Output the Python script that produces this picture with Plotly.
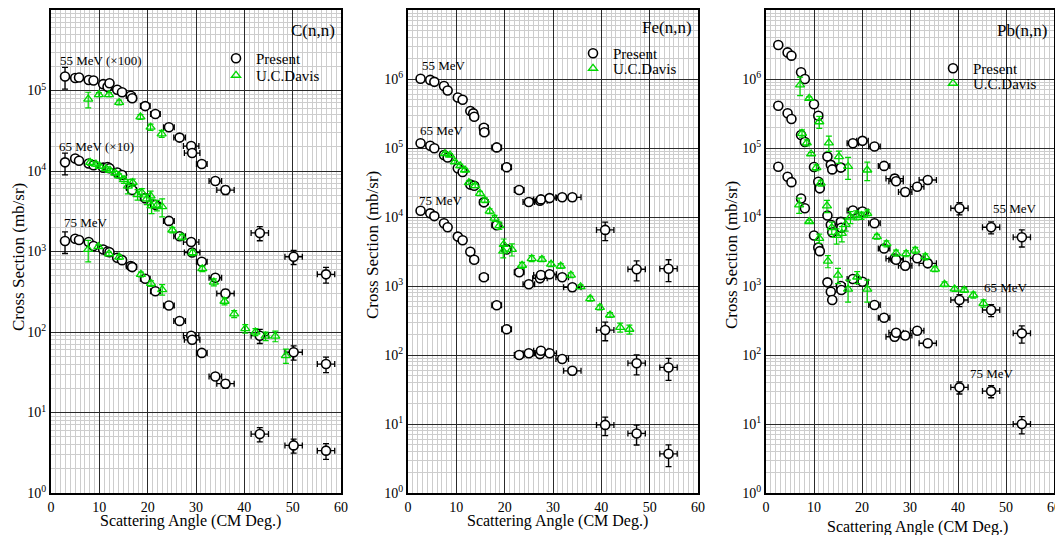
import plotly.graph_objects as go

FONT = "Liberation Serif"
BLACK = "#000000"
GREEN = "#00d800"

# ---------------- C(n,n) : Present ----------------
C_ang = [2.9, 5.0, 5.8, 7.8, 8.8, 10.8, 11.7, 12.1, 13.7, 14.7, 16.5, 16.8, 19.5, 21.6,
         24.4, 26.6, 29.0, 29.2, 31.2, 34.0, 36.1, 43.2, 50.2, 56.9]
C_xerr = [0, 0, 0, 0, 0, 0.5, 0.6, 0.6, 0.7, 0.8, 0.9, 0.9, 1.0, 1.0,
          1.1, 1.2, 1.6, 1.6, 1.1, 1.3, 1.8, 1.8, 1.8, 1.8]
C_yerr = [0.3, 0.03, 0.03, 0.03, 0.03, 0.04, 0.04, 0.04, 0.04, 0.05, 0.05, 0.05, 0.05, 0.05,
          0.05, 0.05, 0.06, 0.06, 0.06, 0.07, 0.12, 0.2, 0.2, 0.22]
C_p55 = [1.49e5, 1.43e5, 1.45e5, 1.35e5, 1.33e5, 1.2e5, 1.11e5, 1.23e5, 1.02e5, 9.5e4, 8.6e4, 8.0e4,
         6.4e4, 5.1e4, 3.5e4, 2.6e4, 2.04e4, 1.67e4, 1.22e4, 7.5e3, 5.8e3, 1.7e3, 860, 520]
C_p65 = [1.28e4, 1.43e4, 1.34e4, 1.24e4, 1.18e4, 1.1e4, 1.12e4, 1.08e4, 9.6e3, 8.9e3, 6.2e3, 5.8e3,
         4.6e3, 3.8e3, 2.4e3, 1.55e3, 1.31e3, 970, 746, 472, 301, 90, 56, 40]
C_p75 = [1.35e3, 1.44e3, 1.39e3, 1.31e3, 1.17e3, 1.06e3, 1.0e3, 980, 837, 781, 660, 640,
         458, 321, 213, 137, 90, 80, 55, 28, 22.8, 5.4, 3.9, 3.36]

# ---------------- C(n,n) : U.C.Davis ----------------
C_u55_ang = [7.7, 9.9, 12.0, 14.1, 18.5, 20.6, 22.9]
C_u55 = [7.8e4, 8.9e4, 8.9e4, 7.1e4, 4.7e4, 3.5e4, 2.9e4]
C_u55_err = [0.22, 0.06, 0.06, 0.07, 0.07, 0.09, 0.1]
C_u65_ang = [8.1, 9.3, 10.1, 11.4, 12.2, 13.3, 14.1, 15.1, 15.9, 16.9, 17.9, 18.8, 19.8, 20.6, 20.8,
             21.9, 23.0, 25.1, 27.1, 29.3, 31.3, 33.7, 35.9, 37.9, 40.2, 42.3, 44.4, 46.4, 48.6]
C_u65 = [1.28e4, 1.22e4, 1.14e4, 1.07e4, 1.02e4, 9.4e3, 8.7e3, 7.8e3, 6.5e3, 7.2e3, 5.1e3, 5.4e3, 4.5e3,
         4.9e3, 3.7e3, 3.75e3, 3.6e3, 1.85e3, 1.51e3, 966, 611, 416, 241, 168, 110, 100, 89, 89, 51]
C_u65_err = [0.08, 0.06, 0.05, 0.05, 0.05, 0.05, 0.06, 0.1, 0.2, 0.1, 0.15, 0.12, 0.15,
             0.15, 0.2, 0.15, 0.25, 0.08, 0.08, 0.08, 0.08, 0.1, 0.1, 0.1, 0.12, 0.1, 0.12, 0.15, 0.2]
C_u75_ang = [7.7, 9.8, 12.0, 14.1, 18.6, 20.7, 23.0]
C_u75 = [1.06e3, 1.15e3, 938, 851, 519, 401, 337]
C_u75_err = [0.3, 0.05, 0.05, 0.06, 0.07, 0.08, 0.15]

# ---------------- Fe(n,n) : Present ----------------
Fe_ang = [2.6, 4.6, 5.45, 7.45, 8.2, 10.3, 11.3, 12.9, 13.5, 13.7, 15.7, 15.8, 18.35, 20.4,
          23.0, 25.0, 27.3, 27.5, 29.3, 31.9, 34.0, 40.8, 47.3, 53.9]
Fe_xerr = [0, 0, 0, 0, 0, 0.4, 0.7, 0.4, 0.5, 0.8, 0.9, 0.9, 1.0, 1.0,
           1.0, 1.2, 1.5, 1.5, 1.4, 1.3, 1.8, 1.8, 1.8, 1.8]
Fe_yerr = [0.03, 0.03, 0.03, 0.03, 0.03, 0.03, 0.03, 0.04, 0.04, 0.04, 0.04, 0.04, 0.05, 0.05,
           0.08, 0.08, 0.1, 0.1, 0.08, 0.08, 0.12, 0.3, 0.32, 0.35]
Fe_p55 = [1.01e6, 9.7e5, 9.1e5, 7.9e5, 6.8e5, 5.4e5, 5.0e5, 3.44e5, 3.18e5, 2.84e5, 1.97e5, 1.69e5,
          1.02e5, 5.25e4, 2.46e4, 1.65e4, 1.72e4, 1.80e4, 1.88e4, 1.93e4, 1.93e4, 6.5e3, 1.75e3, 1.78e3]
Fe_p65 = [1.17e5, 1.08e5, 9.9e4, 7.9e4, 7.3e4, 5.1e4, 4.5e4, 2.95e4, None, 2.84e4, 1.63e4, None,
          7.6e3, 3.4e3, 1.58e3, 1.06e3, 1.29e3, 1.44e3, 1.48e3, 1.34e3, 957, 230, 76, 66]
Fe_p75 = [1.23e4, 1.13e4, 1.03e4, 8.1e3, 7.1e3, 5.2e3, 4.6e3, 3.14e3, None, 2.4e3, 1.34e3, None,
          525, 236, 100, 106, 103, 115, 106, 87.5, 59, 9.7, 7.3, 3.7]

# ---------------- Fe(n,n) : U.C.Davis ----------------
Fe_u_ang = [7.65, 8.7, 9.7, 10.8, 11.8, 12.6, 13.9, 14.9, 15.9, 16.9, 17.9, 18.9, 19.7, 19.8, 21.5,
            23.6, 25.6, 27.7, 29.6, 31.6, 33.7, 35.7, 37.7, 39.7, 41.8, 43.9, 45.8]
Fe_u = [8.3e4, 7.9e4, 6.3e4, 5.5e4, 4.8e4, 3.15e4, 2.84e4, 2.2e4, 1.76e4, 1.22e4, 9.6e3, 7.5e3, 3.2e3,
        4.0e3, 3.4e3, 2.0e3, 2.5e3, 2.44e3, 2.08e3, 1.95e3, 1.44e3, 977, 655, 491, 380, 252, 236]
Fe_u_err = [0.05, 0.05, 0.05, 0.05, 0.06, 0.06, 0.06, 0.07, 0.08, 0.08, 0.1, 0.12, 0.2,
            0.2, 0.2, 0.1, 0.1, 0.08, 0.08, 0.08, 0.08, 0.06, 0.08, 0.08, 0.08, 0.15, 0.15]

# ---------------- Pb(n,n) : Present ----------------
Pb_ang = [2.56, 4.5, 5.3, 7.3, 8.1, 10.0, 10.9, 11.2, 12.8, 13.5, 13.8, 15.6, 15.7, 18.1, 20.1,
          22.6, 24.6, 26.8, 27.1, 29.0, 31.5, 33.7, 40.3, 46.9, 53.3]
Pb_xerr = [0, 0, 0, 0, 0, 0.3, 0.8, 0.8, 0.5, 0.6, 0.6, 0.9, 0.9, 1.2, 1.2,
           1.2, 1.2, 1.8, 1.5, 1.4, 1.4, 1.8, 1.8, 1.8, 1.8]
Pb_yerr = [0.04, 0.04, 0.04, 0.04, 0.04, 0.05, 0.05, 0.05, 0.06, 0.08, 0.1, 0.12, 0.1, 0.06, 0.06,
           0.06, 0.08, 0.12, 0.1, 0.12, 0.1, 0.1, 0.2, 0.2, 0.28]
Pb_p55 = [3.11e6, 2.43e6, 2.18e6, 1.25e6, 1.0e6, 4.3e5, 2.94e5, None, 7.5e4, 5.7e4, 4.9e4, 5.2e4, None,
          1.17e5, 1.27e5, 1.05e5, 5.5e4, 3.6e4, 3.3e4, 2.3e4, 2.75e4, 3.44e4, 1.34e4, 7.1e3, 5.1e3]
Pb_p65 = [4.1e5, 3.19e5, 2.63e5, 1.54e5, 1.22e5, 5.3e4, 3.25e4, 2.6e4, 1.05e4, 7.7e3, 6.0e3, 8.5e3, 7.0e3,
          1.24e4, 1.2e4, 8.1e3, 3.5e3, 2.5e3, 2.4e3, 1.97e3, 2.52e3, 2.13e3, 627, 449, 206]
Pb_p75 = [5.36e4, 3.84e4, 3.2e4, 1.85e4, 1.34e4, 5.4e3, 3.6e3, 3.2e3, 1.13e3, 826, 627, 1.0e3, 875,
          1.26e3, 1.15e3, 531, 347, 184, 210, 192, 225, 148, 34, 30, 10]

# ---------------- Pb(n,n) : U.C.Davis ----------------
Pb_u55_ang = [7.1, 9.0, 11.1, 13.1, 15.2, 17.1, 21.1]
Pb_u55 = [8.2e5, 5.25e5, 2.4e5, 1.19e5, 7.5e4, 5.4e4, 4.8e4]
Pb_u55_err = [0.3, 0.05, 0.2, 0.25, 0.2, 0.35, 0.3]
Pb_u65_ang = [7.5, 8.5, 9.4, 10.5, 11.4, 12.7, 13.7, 14.7, 15.8, 16.6, 17.6, 18.8, 19.9, 21.1,
              23.1, 25.1, 27.1, 29.2, 31.1, 33.2, 35.2, 37.2, 39.3, 41.3, 43.2, 45.3]
Pb_u65 = [1.63e5, 1.19e5, 8.2e4, 5.2e4, 3.1e4, 1.45e4, 7.0e3, 5.4e3, 5.8e3, 7.8e3, 1.0e4, 1.07e4, 1.05e4,
          1.13e4, 5.2e3, 4.1e3, 3.0e3, 2.95e3, 3.3e3, 2.66e3, 1.76e3, 1.06e3, 906, 875, 741, 561]
Pb_u65_err = [0.12, 0.1, 0.05, 0.1, 0.1, 0.2, 0.2, 0.25, 0.25, 0.2, 0.2, 0.15, 0.12,
              0.12, 0.08, 0.1, 0.1, 0.1, 0.1, 0.1, 0.08, 0.08, 0.08, 0.08, 0.1, 0.12]
Pb_u75_ang = [6.9, 9.0, 11.1, 12.9, 15.0, 17.1, 19.0, 21.1]
Pb_u75 = [1.5e4, 8.6e3, 4.9e3, 2.3e3, 1.44e3, 900, 1.35e3, 900]
Pb_u75_err = [0.25, 0.05, 0.15, 0.2, 0.25, 0.35, 0.2, 0.35]

Y_TICKVALS = [1, 10, 100, 1e3, 1e4, 1e5, 1e6, 1e7]
Y_TICKTEXT = ["10<sup>0</sup>", "10<sup>1</sup>", "10<sup>2</sup>", "10<sup>3</sup>",
              "10<sup>4</sup>", "10<sup>5</sup>", "10<sup>6</sup>", "10<sup>7</sup>"]
X_TICKVALS = [0, 10, 20, 30, 40, 50, 60]

# the page body has an 8px margin, so the figure is offset by 8px inside the window
OFF = 8
W, H = 1063 - OFF, 535 - OFF
PLOT_TOP, PLOT_BOT = 10 - OFF, 493 - OFF
MT, MB = PLOT_TOP, H - PLOT_BOT
plot_h = PLOT_BOT - PLOT_TOP


def px(x):
    return (x - OFF) / W


def py(y):
    return (PLOT_BOT - (y - OFF)) / plot_h


panels = [
    dict(name="C(n,n)", dom=(51, 341), ymax=6, xa="x", ya="y",
         present=[(C_p55, C_ang, C_xerr, C_yerr), (C_p65, C_ang, C_xerr, C_yerr),
                  (C_p75, C_ang, C_xerr, C_yerr)],
         ucd=[(C_u55, C_u55_ang, C_u55_err), (C_u65, C_u65_ang, C_u65_err), (C_u75, C_u75_ang, C_u75_err)],
         labels=[("55 MeV (×100)", 1.5, 60), ("65 MeV (×10)", 1.2, 146), ("75 MeV", 2.2, 222)],
         ytitle=(18, 257), xtitle=(190, 521), leg=(234, 58, 75), title_y=30),
    dict(name="Fe(n,n)", dom=(408, 698), ymax=7, xa="x2", ya="y2",
         present=[(Fe_p55, Fe_ang, Fe_xerr, Fe_yerr), (Fe_p65, Fe_ang, Fe_xerr, Fe_yerr),
                  (Fe_p75, Fe_ang, Fe_xerr, Fe_yerr)],
         ucd=[(Fe_u, Fe_u_ang, Fe_u_err)],
         labels=[("55 MeV", 2.4, 65), ("65 MeV", 2.1, 130), ("75 MeV", 1.9, 200)],
         ytitle=(373, 245), xtitle=(557, 521), leg=(591, 53, 68), title_y=27),
    dict(name="Pb(n,n)", dom=(766, 1054), ymax=7, xa="x3", ya="y3",
         present=[(Pb_p55, Pb_ang, Pb_xerr, Pb_yerr), (Pb_p65, Pb_ang, Pb_xerr, Pb_yerr),
                  (Pb_p75, Pb_ang, Pb_xerr, Pb_yerr)],
         ucd=[(Pb_u55, Pb_u55_ang, Pb_u55_err), (Pb_u65, Pb_u65_ang, Pb_u65_err),
              (Pb_u75, Pb_u75_ang, Pb_u75_err)],
         labels=[("55 MeV", 46.9, 208), ("65 MeV", 45.0, 287), ("75 MeV", 42.1, 373)],
         ytitle=(731, 255), xtitle=(917, 527), leg=(951, 68, 83), title_y=30),
]


def yerr_abs(vals, frac):
    return [None if v is None else v * f for v, f in zip(vals, frac)]


fig = go.Figure()
layout = dict(width=W, height=H, margin=dict(l=0, r=0, t=MT, b=MB),
              paper_bgcolor="white", plot_bgcolor="white",
              font=dict(family=FONT, size=14, color="black"), annotations=[])

for i, p in enumerate(panels):
    leg_a = "legend" if i == 0 else "legend%d" % (2 * i + 1)
    leg_b = "legend%d" % (2 * i + 2)
    for k, (vals, ang, xerr, yf) in enumerate(p["present"]):
        fig.add_trace(go.Scatter(
            x=ang, y=vals, mode="markers", xaxis=p["xa"], yaxis=p["ya"],
            name="Present", legend=leg_a, showlegend=(k == 0),
            marker=dict(symbol="circle", size=9, color="white", line=dict(color=BLACK, width=1.6)),
            error_x=dict(type="data", array=xerr, color=BLACK, thickness=1.3, width=3),
            error_y=dict(type="data", array=yerr_abs(vals, yf), color=BLACK, thickness=1.3, width=3),
        ))
    for k, (vals, ang, yf) in enumerate(p["ucd"]):
        fig.add_trace(go.Scatter(
            x=ang, y=vals, mode="markers", xaxis=p["xa"], yaxis=p["ya"],
            name="U.C.Davis", legend=leg_b, showlegend=(k == 0),
            marker=dict(symbol="triangle-up-open", size=8, color=GREEN, line=dict(color=GREEN, width=1.3)),
            error_y=dict(type="data", array=yerr_abs(vals, yf), color=GREEN, thickness=1.2, width=3),
        ))

    x0, x1 = p["dom"]
    sfx = "" if i == 0 else str(i + 1)
    layout["xaxis" + sfx] = dict(
        domain=[px(x0), min(px(x1), 1.0)], range=[0, 60], anchor="y" + sfx,
        tickmode="array", tickvals=X_TICKVALS, ticks="", tickfont=dict(size=14),
        ticklabeloverflow="allow",
        showgrid=True, gridcolor="#2a2a2a", gridwidth=1,
        minor=dict(dtick=1, tick0=0, showgrid=True, gridcolor="#cdcdcd", gridwidth=1),
        showline=True, linecolor="black", linewidth=2, mirror=True, zeroline=False,
        automargin=False,
    )
    layout["yaxis" + sfx] = dict(
        domain=[0, 1], type="log", range=[0, p["ymax"]], anchor="x" + sfx,
        tickmode="array", tickvals=Y_TICKVALS[:p["ymax"] + 1], ticktext=Y_TICKTEXT[:p["ymax"] + 1],
        ticks="", tickfont=dict(size=14),
        showgrid=True, gridcolor="#2a2a2a", gridwidth=1,
        minor=dict(dtick="D1", showgrid=True, gridcolor="#cdcdcd", gridwidth=1),
        showline=True, linecolor="black", linewidth=2, mirror=True, zeroline=False,
        automargin=False,
    )
    # legends: one entry per legend box so each row sits where the reference puts it
    lx, ly1, ly2 = p["leg"]
    for name, cy in ((leg_a, ly1), (leg_b, ly2)):
        layout[name] = dict(
            x=px(lx - 18), y=py(cy - 16), xanchor="left", yanchor="top",
            bgcolor="rgba(0,0,0,0)", borderwidth=0, font=dict(family=FONT, size=15),
            itemwidth=30,
        )
    layout["annotations"].append(dict(
        text=p["name"], xref="paper", yref="paper", x=px(x1 - 4), y=py(p["title_y"]),
        xanchor="right", yanchor="middle", showarrow=False, font=dict(size=17, family=FONT)))
    for txt, xd, ty in p["labels"]:
        layout["annotations"].append(dict(
            text=txt, xref=p["xa"], yref="paper", x=xd, y=py(ty),
            xanchor="left", yanchor="middle", showarrow=False, font=dict(size=13, family=FONT)))
    tx, ty = p["ytitle"]
    layout["annotations"].append(dict(
        text="Cross Section (mb/sr)", xref="paper", yref="paper", x=px(tx), y=py(ty),
        xanchor="center", yanchor="middle", textangle=-90, showarrow=False,
        font=dict(size=17, family=FONT)))
    tx, ty = p["xtitle"]
    layout["annotations"].append(dict(
        text="Scattering Angle (CM Deg.)", xref="paper", yref="paper", x=px(tx), y=py(ty),
        xanchor="center", yanchor="middle", showarrow=False, font=dict(size=16, family=FONT)))

fig.update_layout(**layout)
fig.write_html("out.html")
